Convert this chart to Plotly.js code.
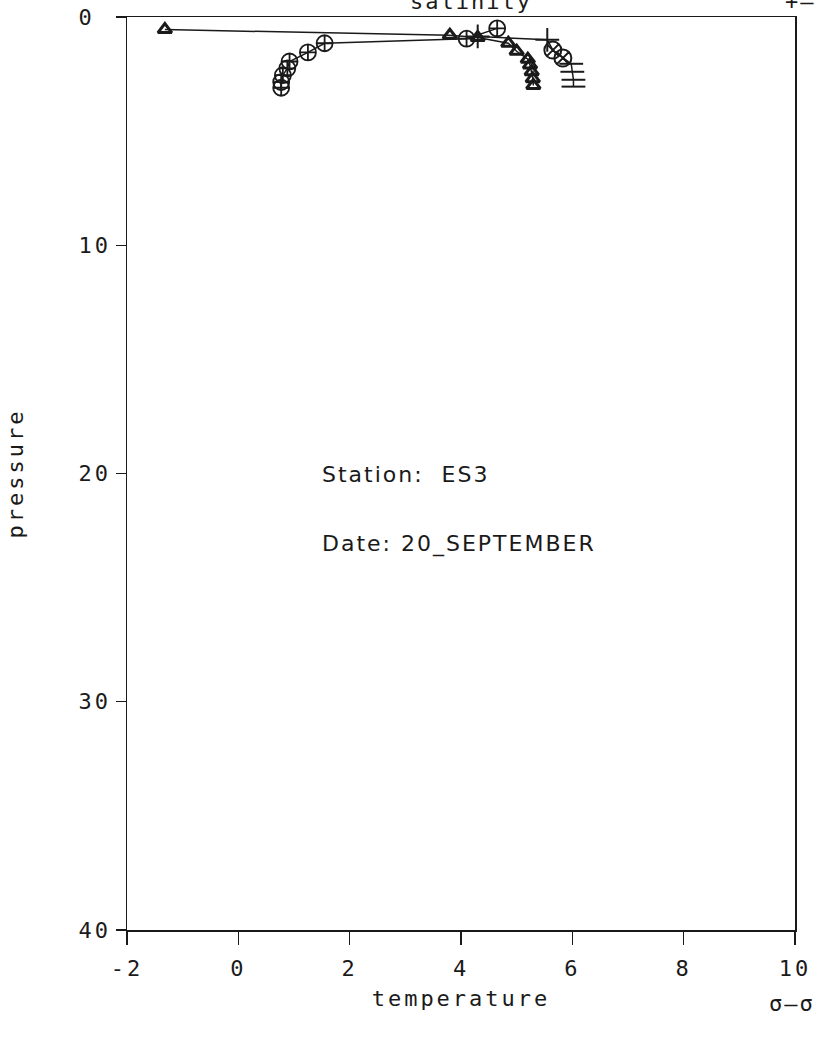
<!DOCTYPE html>
<html>
<head>
<meta charset="utf-8">
<script src="https://cdn.plot.ly/plotly-3.0.1.min.js"></script>
<style>
html,body{margin:0;padding:0;background:#fff;}
#chart{width:816px;height:1043px;}
#chart text{letter-spacing:3px;}
#chart .annotation text{letter-spacing:2px;}
</style>
</head>
<body>
<div id="chart"></div>
<script>
// Temperature profile (circles)
const tempX = [4.65, 4.1, 1.55, 1.25, 0.92, 0.88, 0.8, 0.77, 0.77];
const tempP = [0.5, 0.95, 1.15, 1.55, 1.95, 2.25, 2.55, 2.85, 3.1];
// Salinity profile (triangles)
const salX = [-1.32, 3.8, 4.3, 4.85, 5.0, 5.2, 5.24, 5.27, 5.29, 5.3];
const salP = [0.55, 0.8, 0.9, 1.15, 1.5, 1.85, 2.1, 2.4, 2.7, 3.0];
// Sigma profile (crosses)
const sigX = [4.3, 5.55, 5.65, 5.83, 5.98, 6.0, 6.02, 6.02];
const sigP = [0.85, 1.0, 1.45, 1.8, 2.05, 2.4, 2.75, 3.05];
const sigSym = ['cross-thin-open','cross-thin-open','circle-x-open','circle-x-open','line-ew-open','line-ew-open','line-ew-open','line-ew-open'];

const xTicks = [-2, 0, 2, 4, 6, 8, 10];
const xLabels = ['-2', '0', '2', '4', '6', '8', '10'];
const yTicks = [0, 10, 20, 30, 40];
const yLabels = ['0\u00a0', '10', '20', '30', '40'];

const FONT = 'DejaVu Sans Mono, monospace';
const SANS = 'DejaVu Sans, sans-serif';
const ink = '#1a1a1a';
const FS = 22;

const traces = [
  {x: tempX, y: tempP, mode: 'lines+markers', type: 'scatter',
   line: {color: ink, width: 1.5},
   marker: {symbol: 'circle-cross-open', size: 16, color: ink, line: {width: 1.8, color: ink}}},
  {x: salX, y: salP, mode: 'lines+markers', type: 'scatter',
   line: {color: ink, width: 1.5},
   marker: {symbol: 'triangle-up-open', size: 12, color: ink, line: {width: 3, color: ink}}},
  {x: sigX, y: sigP, mode: 'lines+markers', type: 'scatter',
   line: {color: ink, width: 1.5},
   marker: {symbol: sigSym, size: 17, color: ink, line: {width: 2, color: ink}}}
];

const layout = {
  width: 816, height: 1043,
  margin: {l: 127, r: 21, t: 17, b: 113},
  paper_bgcolor: '#fff', plot_bgcolor: '#fff',
  showlegend: false,
  font: {family: FONT, size: FS, color: ink},
  xaxis: {
    range: [-2, 10], tickvals: xTicks, ticktext: xLabels,
    ticks: 'outside', ticklen: 13, tickwidth: 1.2, tickcolor: ink,
    ticklabelstandoff: 5,
    showline: true, linecolor: ink, linewidth: 1.5, mirror: true,
    showgrid: false, zeroline: false,
    tickfont: {family: FONT, size: FS, color: ink},
    title: {text: 'temperature', font: {family: FONT, size: FS, color: ink}, standoff: 10}
  },
  yaxis: {
    range: [40, 0], tickvals: yTicks, ticktext: yLabels,
    ticks: 'outside', ticklen: 10, tickwidth: 1.2, tickcolor: ink,
    showline: true, linecolor: ink, linewidth: 1.5, mirror: true,
    showgrid: false, zeroline: false,
    tickfont: {family: FONT, size: FS, color: ink},
    title: {text: 'pressure', font: {family: FONT, size: FS, color: ink}, standoff: 55}
  },
  annotations: [
    {xref: 'x', yref: 'y', x: 1.47, y: 20.05, xanchor: 'left', yanchor: 'middle', xshift: 13,
     text: 'Station:  ES3', showarrow: false, font: {family: SANS, size: FS, color: ink}},
    {xref: 'x', yref: 'y', x: 1.47, y: 23.1, xanchor: 'left', yanchor: 'middle', xshift: 18,
     text: 'Date: 20_SEPTEMBER', showarrow: false, font: {family: SANS, size: FS, color: ink}},
    {xref: 'paper', yref: 'paper', x: 0.515, y: 1, xanchor: 'center', yanchor: 'middle', yshift: 16,
     text: 'salinity', showarrow: false, font: {family: FONT, size: FS, color: ink}},
    {xref: 'paper', yref: 'paper', x: 0.985, y: 1, xanchor: 'left', yanchor: 'middle', yshift: 16,
     text: '+—', showarrow: false, font: {family: FONT, size: FS, color: ink}},
    {xref: 'paper', yref: 'paper', x: 0.955, y: 0, xanchor: 'left', yanchor: 'middle', yshift: -73, xshift: 5,
     text: 'σ–σ', showarrow: false, font: {family: FONT, size: FS, color: ink}}
  ]
};

Plotly.newPlot('chart', traces, layout, {staticPlot: true, displayModeBar: false});
</script>
</body>
</html>
